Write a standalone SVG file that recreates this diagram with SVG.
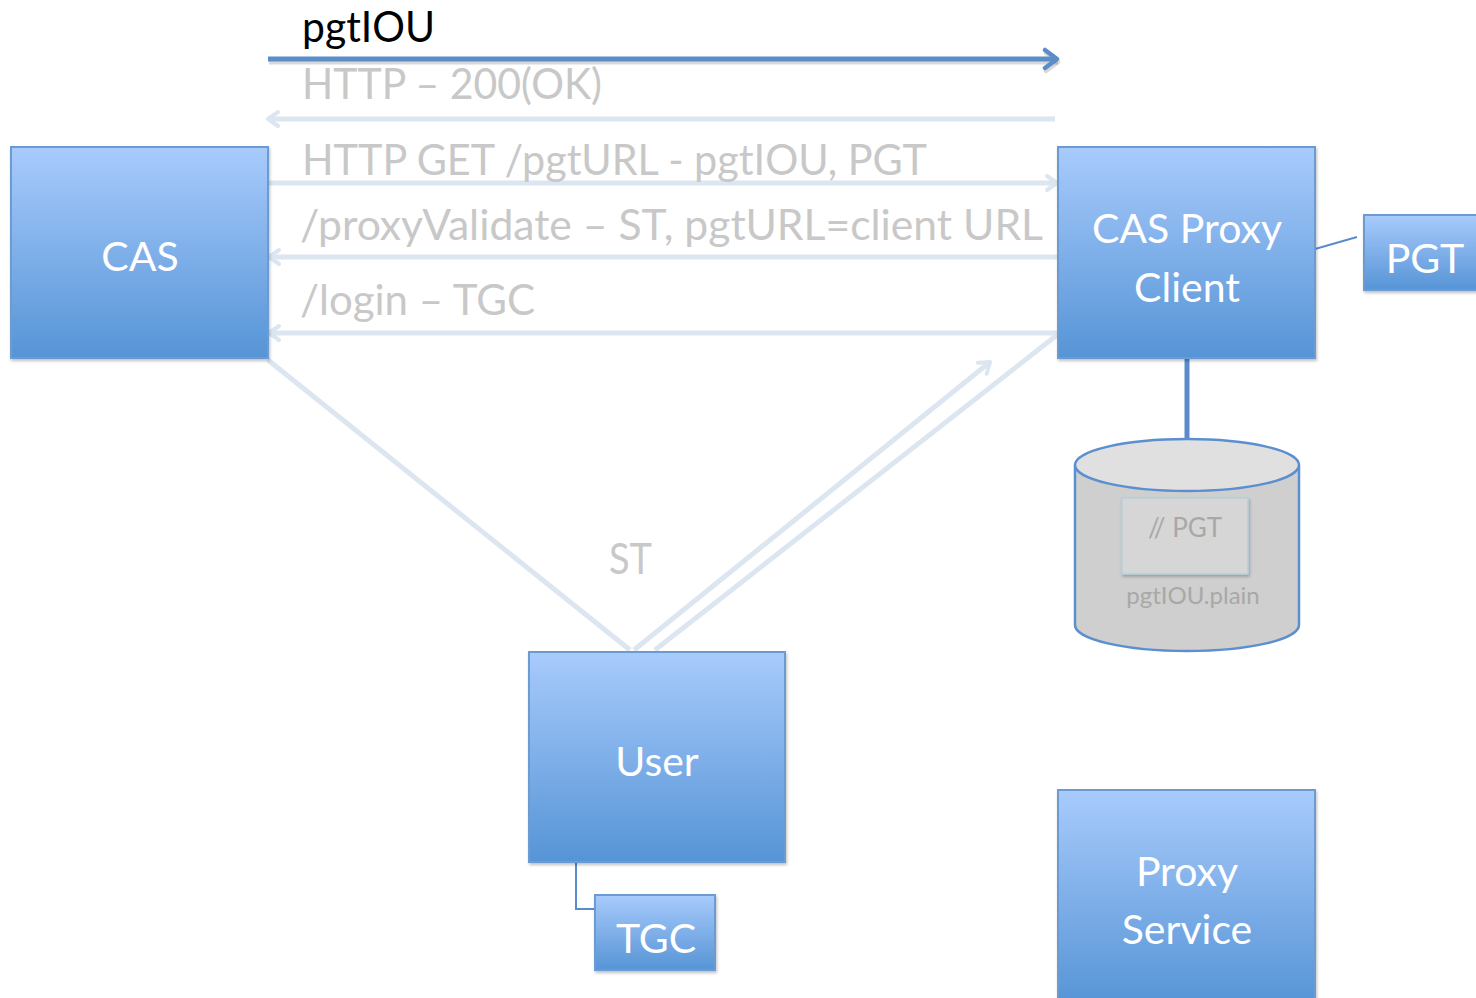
<svg xmlns="http://www.w3.org/2000/svg" width="1476" height="998" viewBox="0 0 1476 998">
<defs>
<linearGradient id="boxg" x1="0" y1="0" x2="0" y2="1">
<stop offset="0" stop-color="#a8cbfc"/>
<stop offset="1" stop-color="#5694d6"/>
</linearGradient>
<filter id="sh" x="-10%" y="-10%" width="130%" height="130%">
<feDropShadow dx="1" dy="2" stdDeviation="1.5" flood-color="#000" flood-opacity="0.25"/>
</filter>
<marker id="headPale" viewBox="0 0 20 20" refX="16" refY="10" markerWidth="20" markerHeight="20" markerUnits="userSpaceOnUse" orient="auto">
<path d="M6,3 L16,10 L6,17" fill="none" stroke="#dce6f1" stroke-width="4" stroke-linecap="round" stroke-linejoin="round"/>
</marker>
<marker id="headBlue" viewBox="0 0 24 24" refX="20" refY="12" markerWidth="24" markerHeight="24" markerUnits="userSpaceOnUse" orient="auto">
<path d="M8,3 L20,12 L8,21" fill="none" stroke="#5b8ec9" stroke-width="4.5" stroke-linecap="round" stroke-linejoin="round"/>
</marker>
<marker id="headShadow" viewBox="0 0 24 24" refX="20" refY="12" markerWidth="24" markerHeight="24" markerUnits="userSpaceOnUse" orient="auto">
<path d="M8,3 L20,12 L8,21" fill="none" stroke="#000" stroke-opacity="0.15" stroke-width="4.5" stroke-linecap="round" stroke-linejoin="round"/>
</marker>
</defs>
<style>
.box{fill:url(#boxg);stroke:#6c9bd2;stroke-width:2;}
.lbl{font-family:Lato,"Open Sans","Liberation Sans",sans-serif;fill:#ffffff;text-anchor:middle;font-size:41px;}
.pale{fill:none;stroke:#dce6f1;stroke-width:5;}
.ptxt{font-family:Lato,"Open Sans","Liberation Sans",sans-serif;fill:#c8c8c8;font-size:43px;}
.thin{fill:none;stroke:#5a8ccc;stroke-width:2;}
</style>
<rect width="1476" height="998" fill="#ffffff"/>

<g id="connectors">
<line x1="269" y1="62" x2="1058" y2="62" stroke="#000" stroke-opacity="0.15" stroke-width="5" marker-end="url(#headShadow)"/>
<line x1="268" y1="59" x2="1057" y2="59" stroke="#5b8ec9" stroke-width="5" marker-end="url(#headBlue)"/>
<line class="pale" x1="1055" y1="119" x2="268" y2="119" marker-end="url(#headPale)"/>
<line class="pale" x1="268" y1="183" x2="1057" y2="183" marker-end="url(#headPale)"/>
<line class="pale" x1="1057" y1="257" x2="269" y2="257" marker-end="url(#headPale)"/>
<line class="pale" x1="1057" y1="333" x2="269" y2="333" marker-end="url(#headPale)"/>
<line class="pale" x1="268" y1="360" x2="630" y2="650"/>
<line class="pale" x1="634" y1="650" x2="990" y2="362" marker-end="url(#headPale)"/>
<line class="pale" x1="655" y1="650" x2="1057" y2="335"/>
<line x1="1187" y1="358" x2="1187" y2="440" stroke="#5a8ccc" stroke-width="5"/>
<line class="thin" x1="1315" y1="249" x2="1357" y2="237"/>
<polyline class="thin" points="576,862 576,909 595,909"/>
</g>

<g id="labels">
<text x="302" y="42" font-family="Lato,'Open Sans','Liberation Sans',sans-serif" font-size="43" fill="#000000" textLength="133" lengthAdjust="spacingAndGlyphs">pgtIOU</text>
<text class="ptxt" x="302" y="99" textLength="300" lengthAdjust="spacingAndGlyphs">HTTP – 200(OK)</text>
<text class="ptxt" x="302" y="175" textLength="625" lengthAdjust="spacingAndGlyphs">HTTP GET /pgtURL - pgtIOU, PGT</text>
<text class="ptxt" x="300" y="240" textLength="743" lengthAdjust="spacingAndGlyphs">/proxyValidate – ST, pgtURL=client URL</text>
<text class="ptxt" x="300" y="315" textLength="235" lengthAdjust="spacingAndGlyphs">/login – TGC</text>
<text class="ptxt" x="609" y="574" textLength="43" lengthAdjust="spacingAndGlyphs">ST</text>
</g>

<g id="cas">
<rect class="box" x="11" y="147" width="257" height="211" filter="url(#sh)"/>
<text class="lbl" x="140" y="271">CAS</text>
</g>

<g id="cas-proxy-client">
<rect class="box" x="1058" y="147" width="257" height="211" filter="url(#sh)"/>
<text class="lbl" x="1187" y="243">CAS Proxy</text>
<text class="lbl" x="1187" y="302">Client</text>
</g>

<g id="pgt">
<rect class="box" x="1364" y="215" width="120" height="75" filter="url(#sh)"/>
<text class="lbl" x="1425" y="273">PGT</text>
</g>

<g id="store">
<path d="M1075,465 L1075,625 A112,26 0 0 0 1299,625 L1299,465" fill="#cfcfcf" stroke="#5b8fd0" stroke-width="2.5"/>
<ellipse cx="1187" cy="465" rx="112" ry="26" fill="#e0e0e0" stroke="#5b8fd0" stroke-width="2.5"/>
<rect x="1122" y="498" width="126" height="76" fill="#d6d6d6" stroke="#b4cfdc" stroke-width="1.5" filter="url(#sh)"/>
<text x="1185" y="537" font-family="Lato,'Open Sans','Liberation Sans',sans-serif" font-size="26" fill="#a8a8a8" text-anchor="middle">// PGT</text>
<text x="1193" y="604" font-family="Lato,'Open Sans','Liberation Sans',sans-serif" font-size="24" fill="#a8a8a8" text-anchor="middle">pgtIOU.plain</text>
</g>

<g id="user">
<rect class="box" x="529" y="652" width="256" height="210" filter="url(#sh)"/>
<text class="lbl" x="657" y="776">User</text>
</g>

<g id="tgc">
<rect class="box" x="595" y="895" width="120" height="75" filter="url(#sh)"/>
<text class="lbl" x="656" y="953">TGC</text>
</g>

<g id="proxy-service">
<rect class="box" x="1058" y="790" width="257" height="215" filter="url(#sh)"/>
<text class="lbl" x="1187" y="886">Proxy</text>
<text class="lbl" x="1187" y="944">Service</text>
</g>
</svg>
